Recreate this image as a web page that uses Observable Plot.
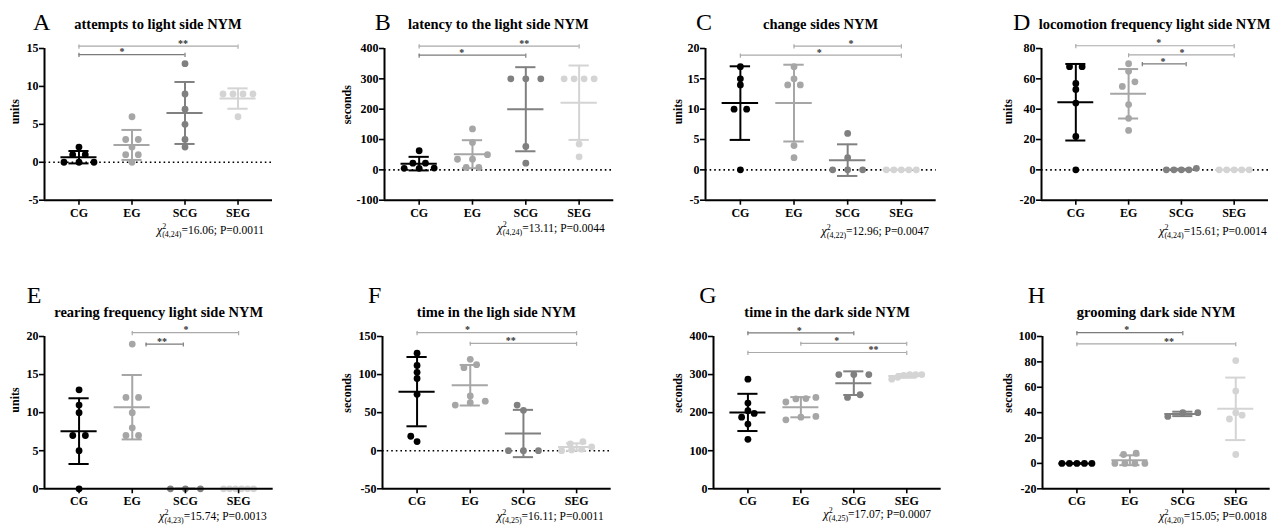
<!DOCTYPE html>
<html><head><meta charset="utf-8">
<script src="https://cdn.jsdelivr.net/npm/d3@7"></script>
<script src="https://cdn.jsdelivr.net/npm/@observablehq/plot@0.6"></script>
<style>
html,body{margin:0;padding:0;background:#fff;}
#root{position:relative;width:1275px;height:529px;overflow:hidden;font-family:"Liberation Serif","Times New Roman",serif;color:#000;}
.panel{position:absolute;}
.letter{position:absolute;font-size:24px;line-height:24px;white-space:nowrap;}
.title{position:absolute;width:400px;text-align:center;font-weight:bold;font-size:14.5px;line-height:14.5px;white-space:nowrap;}
.cap{position:absolute;font-size:11.5px;line-height:14px;white-space:nowrap;}
.cap i{font-size:12.5px;}
.cap sup,.cap sub{font-size:8px;line-height:0;}
.cap sub{margin-left:-4px;}
</style></head><body><div id="root"></div>
<script>
// ---------- data ----------
const groups = ["CG", "EG", "SCG", "SEG"];
const groupColors = ["#000000", "#a6a6a6", "#808080", "#d4d4d4"];
const panelKeys = ["A", "B", "C", "D", "E", "F", "G", "H"];
const titles = [
  "attempts to light side NYM", "latency to the light side NYM", "change sides NYM",
  "locomotion frequency light side NYM", "rearing frequency light side NYM",
  "time in the ligh side NYM", "time in the dark side NYM", "grooming dark side NYM"
];
const yLabels = ["units", "seconds", "units", "units", "units", "seconds", "seconds", "seconds"];
const yDomains = [[-5, 15], [-100, 400], [-5, 20], [-20, 80], [0, 20], [-50, 150], [0, 400], [-20, 100]];
const yTicks = [
  [-5, 0, 5, 10, 15], [-100, 0, 100, 200, 300, 400], [-5, 0, 5, 10, 15, 20], [-20, 0, 20, 40, 60, 80],
  [0, 5, 10, 15, 20], [-50, 0, 50, 100, 150], [0, 100, 200, 300, 400], [-20, 0, 20, 40, 60, 80, 100]
];
const zeroLine = [true, true, true, true, false, true, false, false];
const chiDf = ["(4,24)", "(4,24)", "(4,22)", "(4,24)", "(4,23)", "(4,25)", "(4,25)", "(4,20)"];
const chiValue = ["16.06", "13.11", "12.96", "15.61", "15.74", "16.11", "17.07", "15.05"];
const pValue = ["0.0011", "0.0044", "0.0047", "0.0014", "0.0013", "0.0011", "0.0007", "0.0018"];

// values per group: CG, EG, SCG, SEG
const attempts   = [[0,0,0,1,1,2], [0,1,1,2,3,3,6], [2,3,5,7,9,13], [6,9,9,9,9]];
const latency    = [[5,5,6,22,22,63], [8,8,35,35,50,90,135], [22,77,300,300,300], [43,85,300,300,300,300]];
const changeSides= [[0,10,10,14,15,17], [2,4,14,14,15,17], [0,0,0,2,6], [0,0,0,0,0]];
const locomotion = [[0,22,44,53,57,68,68], [26,34,43,55,58,65,70], [0,0,0,0,1], [0,0,0,0,0]];
const rearing    = [[0,5,7,7,10,11,13], [7,7,8,10,12,12,19], [0,0,0], [0,0,0,0,0,0]];
const timeLight  = [[12,19,74,95,103,112,128], [60,63,65,72,109,113,120], [0,0,0,53,60], [0,1,2,5,9,12]];
const timeDark   = [[130,170,188,198,205,225,288], [181,188,190,228,236,237,240], [240,247,300,300,300], [288,293,298,300,300,300]];
const grooming   = [[0,0,0,0,0], [0,0,0,0,7,8], [37,40,40], [7,35,38,40,57,81]];
const panelData = [attempts, latency, changeSides, locomotion, rearing, timeLight, timeDark, grooming];

// significance: [from group, to group, y, label, label x]
const sigA = [[0,3,15.3,"**",1.96],[0,2,14.2,"*",0.81]];
const sigB = [[0,3,408,"**",1.97],[0,2,378,"*",0.80]];
const sigC = [[1,3,20.4,"*",2.06],[0,3,18.9,"*",1.47]];
const sigD = [[0,3,81.8,"*",1.57],[1,3,75.8,"*",2.01],[1.26,2.09,69.9,"*",1.65]];
const sigE = [[1,3,20.5,"*",2.01],[1.26,1.96,19.0,"**",1.56]];
const sigF = [[0,3,155,"*",0.95],[1,3,141,"**",1.76]];
const sigG = [[0,2,409.6,"*",0.97],[1,3,382,"*",1.68],[0,3,358,"**",2.37]];
const sigH = [[0,2,103,"*",0.94],[0,3,94.2,"**",1.74]];
const sigs = [sigA, sigB, sigC, sigD, sigE, sigF, sigG, sigH];

// ---------- layout ----------
const layout = [
  {ax:44,    xe:272,    row:0, ylOff:29,   letterX:33,     capR:264,    capB:234},
  {ax:383.7, xe:613,    row:0, ylOff:37,   letterX:374.7,  capR:604.7,  capB:232},
  {ax:705.3, xe:936,    row:0, ylOff:27.5, letterX:696,    capR:929,    capB:235},
  {ax:1041,  xe:1268,   row:0, ylOff:33,   letterX:1013,   capR:1266.7, capB:235},
  {ax:44.3,  xe:273,    row:1, ylOff:29,   letterX:26.7,   capR:266.7,  capB:520},
  {ax:382,   xe:610.7,  row:1, ylOff:35,   letterX:368,    capR:603.7,  capB:520},
  {ax:713.3, xe:941,    row:1, ylOff:35.6, letterX:699.3,  capR:931,    capB:518},
  {ax:1042.3,xe:1270,   row:1, ylOff:34.3, letterX:1027.7, capR:1266.7, capB:520}
];
const rows = [
  {top:48.3, bottom:200, letterBase:30, titleBase:29.5},
  {top:335.7, bottom:488, letterBase:303.5, titleBase:317}
];

// beeswarm-like offsets (pixels) in GraphPad style
function swarm(vals, pxPerUnit) {
  const idx = vals.map((v, i) => i).sort((a, b) => vals[a] - vals[b]);
  const placed = [], off = new Array(vals.length);
  let i = 0;
  while (i < idx.length) {
    const y0 = vals[idx[i]] * pxPerUnit;
    let j = i + 1;
    while (j < idx.length && vals[idx[j]] * pxPerUnit - y0 < 5) j++;
    const k = j - i;
    if (k === 1) {
      const cands = [0, -6.3, 6.3, -12.6, 12.6, -18.9, 18.9];
      let chosen = 0;
      for (const c of cands) {
        if (placed.every(p => Math.hypot(p.x - c, p.y - y0) >= 5.5)) { chosen = c; break; }
      }
      off[idx[i]] = chosen; placed.push({x: chosen, y: y0});
    } else {
      const s = k === 2 ? 12.6 : 30 / (k - 1);
      for (let m = 0; m < k; m++) {
        const c = (m - (k - 1) / 2) * s;
        off[idx[i + m]] = c;
        placed.push({x: c, y: vals[idx[i + m]] * pxPerUnit});
      }
    }
    i = j;
  }
  return off;
}

const root = document.getElementById("root");
const ML = 46, MR = 8, MT = 20, MB = 26;
const xDom = [-0.65, 3.65];
const font = "'Liberation Serif','Times New Roman',serif";

layout.forEach((L, p) => {
  const R = rows[L.row];
  const innerW = L.xe - L.ax, innerH = R.bottom - R.top;
  const width = ML + innerW + MR, height = MT + innerH + MB;
  const yDom = yDomains[p];
  const step = innerW / (xDom[1] - xDom[0]);
  const pxY = innerH / (yDom[1] - yDom[0]);
  const series = panelData[p];
  const marks = [];

  if (zeroLine[p]) marks.push(Plot.ruleY([0], {x1: xDom[0], x2: xDom[1], stroke: "#000", strokeWidth: 1.6, strokeDasharray: "1.6,3"}));

  series.forEach((vals, gi) => {
    const offs = swarm(vals, pxY);
    const pts = vals.map((v, k) => ({x: gi + offs[k] / step, y: v}));
    marks.push(Plot.dot(pts, {x: "x", y: "y", r: 3.4, fill: groupColors[gi], stroke: "none"}));
  });

  series.forEach((vals, gi) => {
    const s = {i: gi, m: d3.mean(vals), s: vals.length > 1 ? d3.deviation(vals) : 0};
    const c = groupColors[gi];
    marks.push(Plot.ruleX([s], {x: "i", y1: d => d.m - d.s, y2: d => d.m + d.s, stroke: c, strokeWidth: 2}));
    marks.push(Plot.ruleY([s], {y: "m", x1: d => d.i - 0.34, x2: d => d.i + 0.34, stroke: c, strokeWidth: 2}));
    marks.push(Plot.ruleY([s], {y: d => d.m - d.s, x1: d => d.i - 0.19, x2: d => d.i + 0.19, stroke: c, strokeWidth: 2}));
    marks.push(Plot.ruleY([s], {y: d => d.m + d.s, x1: d => d.i - 0.19, x2: d => d.i + 0.19, stroke: c, strokeWidth: 2}));
  });

  const tl = 3 / pxY;
  sigs[p].forEach(([a, b, y, label, lx]) => {
    const c = Math.round(b) === 3 ? "#aaaaaa" : "#7a7a7a";
    const d = {a, b, y, label, lx};
    marks.push(Plot.ruleY([d], {y: "y", x1: "a", x2: "b", stroke: c, strokeWidth: 1.2}));
    marks.push(Plot.ruleX([a, b], {x: v => v, y1: y - tl, y2: y + tl * 0.4, stroke: c, strokeWidth: 1.2}));
    marks.push(Plot.text([d], {x: "lx", y: "y", text: "label", lineAnchor: "middle", dy: -2.5, fontSize: 10, fill: "#333"}));
  });

  marks.push(Plot.axisY({ticks: yTicks[p], tickFormat: d => String(d), tickSize: 5, tickPadding: 1, strokeWidth: 1.6, fontSize: 12, fontWeight: "bold", label: null}));
  marks.push(Plot.axisX({ticks: [0, 1, 2, 3], tickFormat: i => groups[i], tickSize: 5, tickPadding: 3, strokeWidth: 1.6, fontSize: 12, fontWeight: "bold", label: null}));
  marks.push(Plot.ruleX([xDom[0]], {y1: yDom[0], y2: yDom[1], stroke: "#000", strokeWidth: 2}));
  marks.push(Plot.ruleY([yDom[0]], {x1: xDom[0], x2: xDom[1], stroke: "#000", strokeWidth: 2}));
  marks.push(Plot.text([yLabels[p]], {text: d => d, frameAnchor: "left", dx: -L.ylOff, rotate: -90, fontSize: 12, fontWeight: "bold", fill: "#000"}));

  const svg = Plot.plot({
    width, height, marginLeft: ML, marginRight: MR, marginTop: MT, marginBottom: MB,
    x: {domain: xDom}, y: {domain: yDom},
    style: {fontFamily: font, fontWeight: "bold", fontSize: "12px", background: "transparent", overflow: "visible", color: "#000"},
    marks
  });
  const wrap = document.createElement("div");
  wrap.className = "panel";
  wrap.style.left = (L.ax - ML) + "px";
  wrap.style.top = (R.top - MT) + "px";
  wrap.style.width = width + "px";
  wrap.appendChild(svg);
  root.appendChild(wrap);

  const letter = document.createElement("div");
  letter.className = "letter";
  letter.textContent = panelKeys[p];
  letter.style.left = L.letterX + "px";
  letter.style.top = (R.letterBase - 0.8375 * 24) + "px";
  root.appendChild(letter);

  const title = document.createElement("div");
  title.className = "title";
  title.textContent = titles[p];
  title.style.left = ((L.ax + L.xe) / 2 - 200) + "px";
  title.style.top = (R.titleBase - 0.8375 * 14.5) + "px";
  root.appendChild(title);

  const cap = document.createElement("div");
  cap.className = "cap";
  cap.innerHTML = `<i>χ</i><sup>2</sup><sub>${chiDf[p]}</sub>=${chiValue[p]}; P=${pValue[p]}`;
  cap.style.right = (1275 - L.capR) + "px";
  cap.style.top = (L.capB - 10.9) + "px";
  root.appendChild(cap);
});
</script></body></html>
